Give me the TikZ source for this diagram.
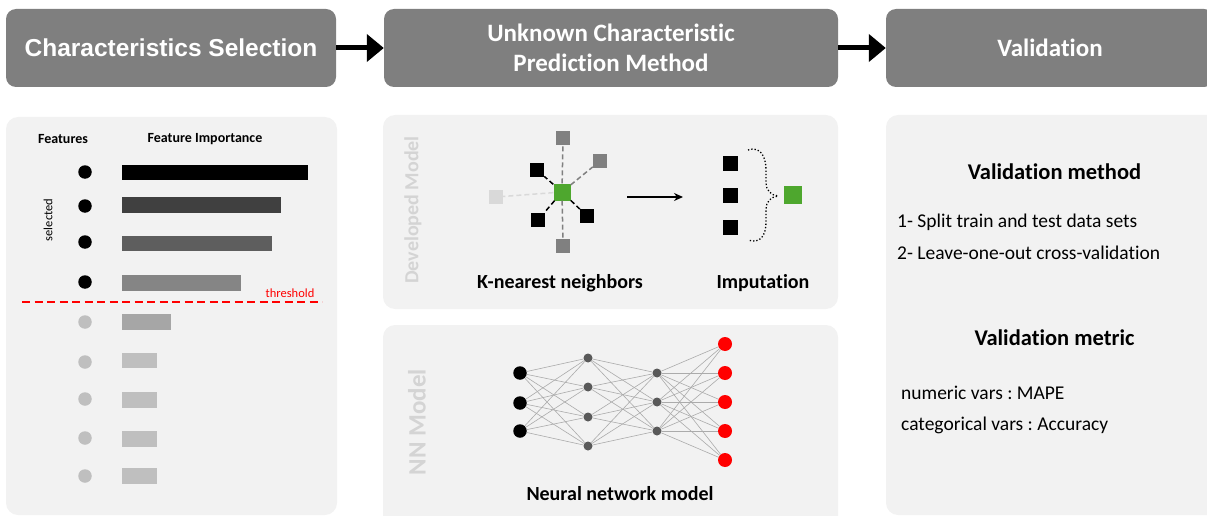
\documentclass[tikz,border=0pt]{standalone}
\usepackage{fontspec}
\setmainfont{Carlito}[Ligatures={TeX,NoCommon}]
\newfontfamily\arialf{Liberation Sans}
\frenchspacing
\usetikzlibrary{arrows.meta}
\definecolor{hdr}{HTML}{7F7F7F}
\definecolor{pnl}{HTML}{F2F2F2}
\definecolor{knngreen}{HTML}{4EA72E}
\definecolor{faint}{HTML}{D4D4D4}
\definecolor{dotlight}{HTML}{BFBFBF}
\definecolor{bar2c}{HTML}{404040}
\definecolor{bar3c}{HTML}{5E5E5E}
\definecolor{bar4c}{HTML}{858585}
\definecolor{bar5c}{HTML}{A6A6A6}
\definecolor{nngray}{HTML}{595959}
\definecolor{edgegray}{HTML}{ABABAB}
\definecolor{sqgray}{HTML}{808080}
\definecolor{sqlight}{HTML}{D9D9D9}
\begin{document}
\begin{tikzpicture}[x=1pt,y=-1pt,
  hdrbox/.style={fill=hdr, rounded corners=10pt, inner sep=0pt, text=white, align=center, font=\bfseries\fontsize{25}{30}\selectfont},
  panel/.style={fill=pnl, rounded corners=12pt, inner sep=0pt},
  bigarrow/.style={line width=5pt, -{Triangle[length=17pt,width=27pt]}},
  fdot/.style={circle, inner sep=0pt, minimum size=13.5pt},
  fbar/.style={rectangle, inner sep=0pt, anchor=west, minimum height=15.5pt},
  sq/.style={rectangle, inner sep=0pt, minimum size=14pt},
  knnline/.style={line width=1.5pt, dash pattern=on 5pt off 3pt},
  nnedge/.style={draw=edgegray, line width=0.6pt},
  ndot/.style={circle, inner sep=0pt},
  lbl/.style={inner sep=0pt, font=\bfseries\fontsize{20}{24}\selectfont},
  vtxt/.style={inner sep=0pt, anchor=west, font=\fontsize{19.5}{23}\selectfont},
  sidelbl/.style={inner sep=0pt, rotate=90, text=faint, font=\bfseries}
]
\useasboundingbox (0,0) rectangle (1207,516);
\clip (0,0) rectangle (1207,516);

% ---------- header boxes ----------
\node[hdrbox, minimum width=330pt, minimum height=78pt, font=\arialf\bfseries\fontsize{24.5}{28}\selectfont] (hA) at (171,48) {Characteristics Selection};
\node[hdrbox, minimum width=454pt, minimum height=78pt] (hB) at (611,48) {Unknown Characteristic\\Prediction Method};
\node[hdrbox, minimum width=328pt, minimum height=78pt] (hC) at (1050,48) {Validation};
\draw[bigarrow] (hA) -- (hB);
\draw[bigarrow] (hB) -- (hC);

% ---------- panels ----------
\node[panel, minimum width=331pt, minimum height=398pt] (p1) at (171.5,316) {};
\node[panel, minimum width=455pt, minimum height=194pt] (p2) at (610.5,212) {};
\node[panel, minimum width=455pt, minimum height=210pt] (p3) at (610.5,430) {};
\node[panel, minimum width=340pt, minimum height=400pt] (p4) at (1056,315) {};

% ---------- panel 1 : feature importance ----------
\node[inner sep=0pt, font=\bfseries\fontsize{14}{17}\selectfont] (tfeat) at (63,139) {Features};
\node[inner sep=0pt, font=\bfseries\fontsize{14}{17}\selectfont] (timp) at (205,139) {Feature Importance};
\node[inner sep=0pt, rotate=90, font=\fontsize{12.5}{15}\selectfont] (tsel) at (48,220) {selected};

\node[fdot, fill=black] (f1) at (85,172) {};
\node[fdot, fill=black] (f2) at (85,206) {};
\node[fdot, fill=black] (f3) at (85,242) {};
\node[fdot, fill=black] (f4) at (85,282) {};
\node[fdot, fill=dotlight] (f5) at (85,322) {};
\node[fdot, fill=dotlight] (f6) at (85,362) {};
\node[fdot, fill=dotlight] (f7) at (85,399) {};
\node[fdot, fill=dotlight] (f8) at (85,438) {};
\node[fdot, fill=dotlight] (f9) at (85,476) {};

\node[fbar, fill=black, minimum width=186pt] (bar1) at (122,172.5) {};
\node[fbar, fill=bar2c, minimum width=159pt] (bar2) at (122,205) {};
\node[fbar, fill=bar3c, minimum width=150pt] (bar3) at (122,243.5) {};
\node[fbar, fill=bar4c, minimum width=119pt] (bar4) at (122,283) {};
\node[fbar, fill=bar5c, minimum width=49pt] (bar5) at (122,322) {};
\node[fbar, fill=dotlight, minimum width=35pt] (bar6) at (122,360.5) {};
\node[fbar, fill=dotlight, minimum width=35pt] (bar7) at (122,400) {};
\node[fbar, fill=dotlight, minimum width=35pt] (bar8) at (122,439) {};
\node[fbar, fill=dotlight, minimum width=35pt] (bar9) at (122,476) {};

\coordinate (thA) at (22,302);
\coordinate (thB) at (322,302);
\draw[red, line width=2.2pt, dash pattern=on 8pt off 4.5pt] (thA) -- (thB);
\node[inner sep=0pt, text=red, font=\fontsize{12.5}{15}\selectfont] (tthr) at (290,293) {threshold};

% ---------- panel 2 : KNN ----------
\node[sidelbl, font=\bfseries\fontsize{20}{24}\selectfont] (tdev) at (413,210) {Developed Model};

\node[sq, fill=knngreen, minimum size=17pt] (g) at (562,192) {};
\node[sq, fill=black] (k1) at (537,170) {};
\node[sq, fill=black] (k2) at (538,220) {};
\node[sq, fill=black] (k3) at (587,216) {};
\node[sq, fill=sqgray] (k4) at (563,138) {};
\node[sq, fill=sqgray] (k5) at (600,161) {};
\node[sq, fill=sqgray] (k6) at (563,246) {};
\node[sq, fill=sqlight] (k7) at (496,197) {};
\draw[knnline, black] (g) -- (k1);
\draw[knnline, black] (g) -- (k2);
\draw[knnline, black] (g) -- (k3);
\draw[knnline, sqgray] (g) -- (k4);
\draw[knnline, sqgray] (g) -- (k5);
\draw[knnline, sqgray] (g) -- (k6);
\draw[knnline, sqlight] (g) -- (k7);

\coordinate (arA) at (627,197);
\coordinate (arB) at (683,197);
\draw[line width=1.5pt, -{Stealth[length=9pt,width=8pt]}] (arA) -- (arB);

\node[sq, fill=black, minimum size=15pt] (m1) at (730,163) {};
\node[sq, fill=black, minimum size=15pt] (m2) at (730,195) {};
\node[sq, fill=black, minimum size=15pt] (m3) at (730,227) {};
\node[sq, fill=knngreen, minimum size=18pt] (gi) at (793,195) {};
\coordinate (brT) at (748,150);
\coordinate (brM) at (778,196);
\coordinate (brB) at (748,240);
\draw[line width=1.3pt, dotted] (brT) .. controls (760,146) and (766,156) .. (766,170)
   -- (766,182) .. controls (766,191) and (771,195) .. (brM)
   .. controls (771,197) and (766,201) .. (766,210)
   -- (766,222) .. controls (766,236) and (760,244) .. (brB);

\node[lbl] (tknn) at (560,283) {K-nearest neighbors};
\node[lbl] (timpu) at (763,283) {Imputation};

% ---------- panel 3 : neural network ----------
\node[sidelbl, font=\bfseries\fontsize{25}{30}\selectfont] (tnn) at (417,422) {NN Model};

\foreach \i/\y in {1/373,2/403,3/431}
  \node[ndot, fill=black, minimum size=13.5pt] (in\i) at (520,\y) {};
\foreach \i/\y in {1/358,2/387,3/417,4/446}
  \node[ndot, fill=nngray, minimum size=9pt] (a\i) at (588,\y) {};
\foreach \i/\y in {1/373,2/402,3/431}
  \node[ndot, fill=nngray, minimum size=9pt] (c\i) at (657,\y) {};
\foreach \i/\y in {1/344,2/373,3/402,4/431,5/460}
  \node[ndot, fill=red, minimum size=14pt] (o\i) at (725,\y) {};

\foreach \i in {1,2,3}
  \foreach \j in {1,2,3,4}
    \draw[nnedge] (in\i) -- (a\j);
\foreach \i in {1,2,3,4}
  \foreach \j in {1,2,3}
    \draw[nnedge] (a\i) -- (c\j);
\foreach \i in {1,2,3}
  \foreach \j in {1,2,3,4,5}
    \draw[nnedge] (c\i) -- (o\j);

\node[lbl] (tnnm) at (620,494) {Neural network model};

% ---------- panel 4 : validation ----------
\node[inner sep=0pt, font=\bfseries\fontsize{22.5}{27}\selectfont] (tvm) at (1054.5,172) {Validation method};
\node[vtxt] (v1) at (897,222) {1- Split train and test data sets};
\node[vtxt] (v2) at (897,253) {2- Leave-one-out cross-validation};
\node[inner sep=0pt, font=\bfseries\fontsize{22.5}{27}\selectfont] (tvx) at (1054.5,338) {Validation metric};
\node[vtxt] (v3) at (901,393) {numeric vars : MAPE};
\node[vtxt] (v4) at (901,425) {categorical vars : Accuracy};
\end{tikzpicture}
\end{document}
